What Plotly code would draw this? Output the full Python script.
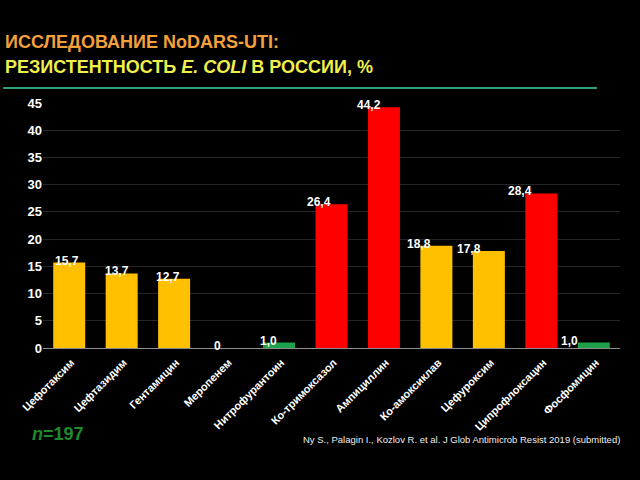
import plotly.graph_objects as go

# resistance of E. coli to antibiotics, %
drugs = ['Цефотаксим', 'Цефтазидим', 'Гентамицин', 'Меропенем', 'Нитрофурантоин',
         'Ко-тримоксазол', 'Ампициллин', 'Ко-амоксиклав', 'Цефуроксим',
         'Ципрофлоксацин', 'Фосфомицин']
resistance = [15.7, 13.7, 12.7, 0, 1.0, 26.4, 44.2, 18.8, 17.8, 28.4, 1.0]
value_labels = ['15,7', '13,7', '12,7', '0', '1,0', '26,4', '44,2', '18,8', '17,8', '28,4', '1,0']
level = ['mid', 'mid', 'mid', 'low', 'low', 'high', 'high', 'mid', 'mid', 'high', 'low']
y_ticks = [0, 5, 10, 15, 20, 25, 30, 35, 40, 45]

level_colors = {'low': '#1FA04A', 'mid': '#FFC000', 'high': '#FF0000'}
FONT = 'Liberation Sans, Arial, sans-serif'

fig = go.Figure()
fig.add_trace(go.Bar(
    x=drugs,
    y=resistance,
    marker=dict(color=[level_colors[l] for l in level], line=dict(width=0)),
    hoverinfo='x+y',
))

# data labels sit on the bar tops, nudged a bit left like in the slide
for i, (d, v, t) in enumerate(zip(drugs, resistance, value_labels)):
    fig.add_annotation(
        x=d, y=v, text=t, showarrow=False,
        xanchor='center', yanchor='middle',
        xshift=-(2 + 2.2 * i), yshift=2,
        font=dict(family=FONT, size=12, color='white', weight='bold'),
    )

# title block
fig.add_annotation(
    xref='paper', yref='paper', x=-0.069, y=1.251, xanchor='left', yanchor='middle',
    text='ИССЛЕДОВАНИЕ NoDARS-UTI:', showarrow=False,
    font=dict(family=FONT, size=18, color='#F5A03A', weight='bold'),
)
fig.add_annotation(
    xref='paper', yref='paper', x=-0.069, y=1.147, xanchor='left', yanchor='middle',
    text='РЕЗИСТЕНТНОСТЬ <i>E. COLI</i> В РОССИИ, %', showarrow=False,
    font=dict(family=FONT, size=18, color='#F0F04A', weight='bold'),
)
fig.add_shape(
    type='line', xref='paper', yref='paper', x0=-0.069, x1=0.96, y0=1.061, y1=1.061,
    line=dict(color='#2FA47C', width=2),
)

fig.add_annotation(
    xref='paper', yref='paper', x=-0.0225, y=-0.351, xanchor='left', yanchor='middle',
    text='<i>n</i>=197', showarrow=False,
    font=dict(family=FONT, size=18, color='#1E8A2C', weight='bold'),
)
fig.add_annotation(
    xref='paper', yref='paper', x=1.0035, y=-0.3755, xanchor='right', yanchor='middle',
    text='Ny S., Palagin I., Kozlov R. et al. J Glob Antimicrob Resist 2019 (submitted)',
    showarrow=False,
    font=dict(family=FONT, size=9.5, color='#EDEDED'),
)

fig.update_layout(
    width=640, height=480,
    paper_bgcolor='black', plot_bgcolor='black',
    margin=dict(l=43, r=20, t=103, b=132),
    bargap=0.39,
    showlegend=False,
    xaxis=dict(
        tickangle=-45,
        tickfont=dict(family=FONT, size=11, color='white', weight='bold'),
        ticklabelshift=2, ticklabelstandoff=3,
        showline=True, linecolor='#8C8C8C', linewidth=1,
        showgrid=False, ticks='',
    ),
    yaxis=dict(
        range=[0, 45],
        tickvals=y_ticks,
        tickfont=dict(family=FONT, size=13, color='white', weight='bold'),
        gridcolor='#262626', gridwidth=1,
        zeroline=False, showline=False, ticks='',
    ),
)

# the page itself should be black edge to edge, like the slide
fig.write_html('out.html', config={'displayModeBar': False},
               post_script="document.body.style.margin='0';"
                           "document.body.style.background='black';")
